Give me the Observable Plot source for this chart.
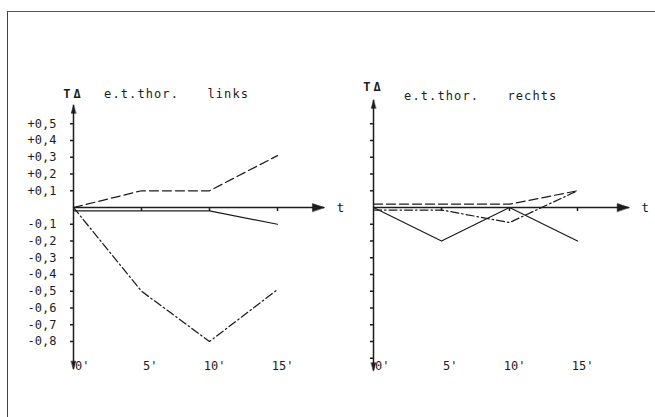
<!DOCTYPE html>
<html><head><meta charset="utf-8">
<script src="https://cdn.jsdelivr.net/npm/d3@7"></script>
<script src="https://cdn.jsdelivr.net/npm/@observablehq/plot@0.6"></script>
<style>
html,body{margin:0;padding:0;background:#fff;overflow:hidden;}
#wrap{position:relative;width:655px;height:417px;overflow:hidden;}
#frameTop{position:absolute;left:7px;top:11px;width:660px;height:0;border-top:1.5px solid #555;}
#frameLeft{position:absolute;left:7px;top:11px;width:0;height:420px;border-left:1.5px solid #444;}
#chart{position:absolute;left:0;top:0;}
#chart g.ttl text{letter-spacing:1.1px;}
#chart g.ylab text{letter-spacing:3px;}
</style></head><body><div id="wrap"><div id="chart"></div><div id="frameTop"></div><div id="frameLeft"></div></div>
<script>
// ---- data ----
const panels = ["links", "rechts"];
const times = [0, 5, 10, 15];
const timeLabels = ["0'", "5'", "10'", "15'"];
const xTickValues = [5, 10, 15];

// left panel: e.t.thor. links
const linksSolid   = [-0.02, -0.02, -0.02, -0.10];
const linksDashed  = [0.00, 0.10, 0.10, 0.31];
const linksDashDot = [0.00, -0.50, -0.80, -0.49];

// right panel: e.t.thor. rechts
const rechtsSolid   = [0.00, -0.20, 0.00, -0.20];
const rechtsDashed  = [0.02, 0.02, 0.02, 0.10];
const rechtsDashDot = [-0.015, -0.015, -0.09, 0.10];

const linksTickValues = [0.5, 0.4, 0.3, 0.2, 0.1, -0.1, -0.2, -0.3, -0.4, -0.5, -0.6, -0.7, -0.8];
const linksTickLabels = ["+0,5", "+0,4", "+0,3", "+0,2", "+0,1", "-0,1", "-0,2", "-0,3", "-0,4", "-0,5", "-0,6", "-0,7", "-0,8"];
const rechtsTickValues = [0.5, 0.4, 0.3, 0.2, 0.1, -0.1, -0.2, -0.3, -0.4, -0.5, -0.6, -0.7, -0.8, -0.9];

const titleText = "e.t.thor.";
const sideTexts = ["links", "rechts"];
const yLabel = "T\u0394";
const xLabel = "t";

// axis extents (data units) per panel
const axisXEnd = [18.45, 18.8];
const axisYTop = [0.61, 0.64];
const axisYBottom = [-0.965, -0.975];
const titleY = [0.675, 0.663];
const yLabelY = [0.675, 0.718];

// ---- build tables ----
const ink = "#1c1c1c";
const series = [
  {panel: "links", style: "solid", values: linksSolid},
  {panel: "links", style: "dashed", values: linksDashed},
  {panel: "links", style: "dashdot", values: linksDashDot},
  {panel: "rechts", style: "solid", values: rechtsSolid},
  {panel: "rechts", style: "dashed", values: rechtsDashed},
  {panel: "rechts", style: "dashdot", values: rechtsDashDot}
];
const lineRows = series.flatMap(s => times.map((t, i) => ({panel: s.panel, style: s.style, key: s.panel + s.style, t, v: s.values[i]})));
const axisRows = panels.map((p, i) => ({panel: p, xEnd: axisXEnd[i], yTop: axisYTop[i], yBottom: axisYBottom[i], side: sideTexts[i], titleY: titleY[i], yLabelY: yLabelY[i]}));
const yTickRows = [
  ...linksTickValues.map((v, i) => ({panel: "links", v, label: linksTickLabels[i]})),
  ...rechtsTickValues.map(v => ({panel: "rechts", v, label: ""}))
];
const xTickRows = panels.flatMap(p => xTickValues.map(t => ({panel: p, t})));
const xLabelRows = panels.flatMap(p => times.map((t, i) => ({panel: p, t, label: timeLabels[i]})));

const head = {draw(ctx, l, r) { ctx.moveTo(0, -l); ctx.lineTo(-r, 0); ctx.lineTo(r, 0); ctx.closePath(); }};
const mono = "DejaVu Sans Mono";

const styleDash = {solid: null, dashed: "9,4", dashdot: "8,3,1.5,3"};
const lineMarks = Object.keys(styleDash).map(s =>
  Plot.line(lineRows.filter(d => d.style === s), {x: "t", y: "v", fx: "panel", z: "key", stroke: ink, strokeWidth: 1.25, strokeDasharray: styleDash[s], strokeLinejoin: "miter"}));

const chart = Plot.plot({
  width: 655, height: 417,
  marginLeft: 73, marginRight: 23.6, marginTop: 73, marginBottom: 42.5,
  fx: {domain: panels, axis: null, paddingInner: 0.1387, paddingOuter: 0, round: false},
  x: {domain: [0, 19], axis: null},
  y: {domain: [-1, 0.8], axis: null},
  style: {background: "transparent", color: ink},
  marks: [
    // axes lines
    Plot.ruleY(axisRows, {fx: "panel", y: 0, x1: 0, x2: "xEnd", stroke: ink, strokeWidth: 1.5}),
    Plot.ruleX(axisRows, {fx: "panel", x: 0, y1: "yBottom", y2: "yTop", stroke: ink, strokeWidth: 1.5}),
    Plot.vector(axisRows, {fx: "panel", x: "xEnd", y: 0, length: 12, r: 4, rotate: 90, anchor: "end", shape: head, fill: ink, stroke: ink, strokeWidth: 0.5}),
    Plot.vector(axisRows, {fx: "panel", x: 0, y: "yTop", length: 8, r: 2.3, rotate: 0, anchor: "end", shape: head, fill: ink, stroke: ink, strokeWidth: 0.5}),
    Plot.vector(axisRows, {fx: "panel", x: 0, y: "yBottom", length: 8, r: 2.3, rotate: 180, anchor: "end", shape: head, fill: ink, stroke: ink, strokeWidth: 0.5}),
    // ticks
    Plot.ruleY(yTickRows, {fx: "panel", y: "v", x1: 0, x2: 0, insetLeft: -3, stroke: ink, strokeWidth: 1.5}),
    Plot.ruleX(xTickRows, {fx: "panel", x: "t", y1: 0, y2: 0, insetBottom: -4, stroke: ink, strokeWidth: 1.5}),
    // tick labels
    Plot.text(yTickRows, {fx: "panel", x: 0, y: "v", text: "label", textAnchor: "end", dx: -17, fontFamily: mono, fontSize: 12, fill: ink}),
    Plot.text(xLabelRows, {fx: "panel", x: "t", y: -0.945, text: "label", textAnchor: "end", dx: 16, fontFamily: mono, fontSize: 12, fill: ink}),
    // axis names & titles
    Plot.text(axisRows, {fx: "panel", x: "xEnd", y: 0, text: () => xLabel, textAnchor: "start", dx: 12, fontFamily: mono, fontSize: 13, fill: ink}),
    Plot.text(axisRows, {fx: "panel", x: 0, y: "yLabelY", text: () => yLabel, textAnchor: "middle", fontFamily: mono, fontSize: 12, fontWeight: "bold", fill: ink, className: "ylab"}),
    Plot.text(axisRows, {fx: "panel", x: 2.25, y: "titleY", text: () => titleText, textAnchor: "start", fontFamily: mono, fontSize: 12, fill: ink, className: "ttl"}),
    Plot.text(axisRows, {fx: "panel", x: 9.85, y: "titleY", text: "side", textAnchor: "start", fontFamily: mono, fontSize: 12, fill: ink, className: "ttl"}),
    // data lines
    ...lineMarks
  ]
});
document.getElementById("chart").appendChild(chart);
</script></body></html>
